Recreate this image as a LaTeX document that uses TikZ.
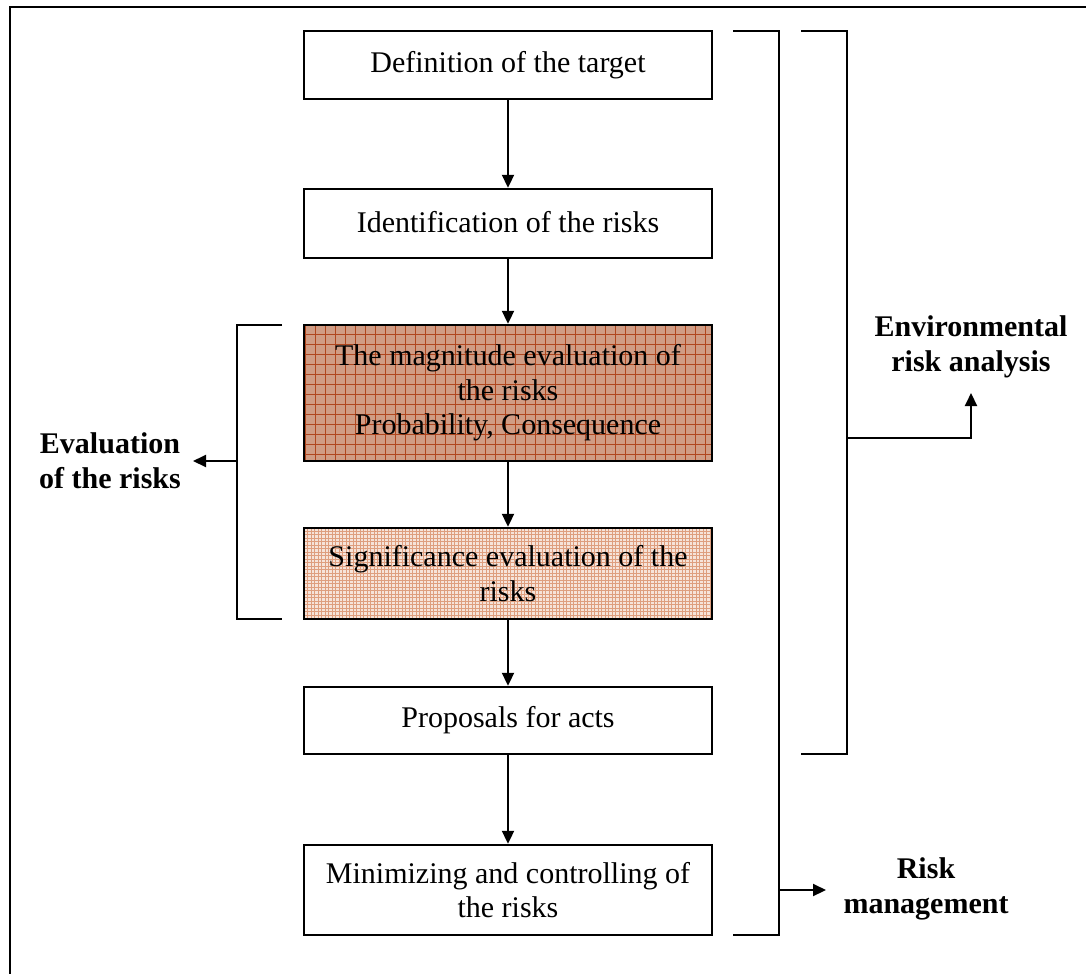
\documentclass[tikz,border=0pt]{standalone}
\usepackage{fontspec}
\setmainfont{Liberation Serif}
\usetikzlibrary{arrows.meta}

\definecolor{magbase}{HTML}{D09C84}
\definecolor{maggrid}{HTML}{B0461E}
\definecolor{sigbase}{HTML}{F6E3D9}
\definecolor{siggrid}{HTML}{DE9E7E}

\tikzset{
  stepbox/.style={draw=black, line width=2.4pt, fill=white,
    minimum width=408pt, inner sep=0pt, align=center,
    font=\fontsize{30}{34.5}\selectfont},
  magfill/.style={fill=magbase, path picture={
      \draw[maggrid, line width=1.1pt, step=10pt]
        (path picture bounding box.south west) grid (path picture bounding box.north east);}},
  sigfill/.style={fill=sigbase, path picture={
      \draw[siggrid, line width=0.7pt, step=3.5pt]
        (path picture bounding box.south west) grid (path picture bounding box.north east);}},
  flow/.style={line width=2pt, -{Triangle[width=12pt,length=13pt]}},
  bracket/.style={line width=2pt},
  label/.style={align=center, font=\fontsize{30}{35}\selectfont\bfseries},
}

\begin{document}
\begin{tikzpicture}[x=1pt, y=-1pt]
\useasboundingbox (0,0) rectangle (1086,974);

% outer frame (only the top and left edges fall inside the page)
\draw[line width=2pt] (1086,7) -- (10,7) -- (10,974);

% process steps
\node[stepbox, minimum height=68pt] (def) at (508,65) {Definition of the target};
\node[stepbox, minimum height=69pt] (ident) at (508,223.5)
  {\raisebox{4pt}{Identification of the risks}};
\node[stepbox, magfill, minimum height=136pt] (mag) at (508,393)
  {The magnitude evaluation of\\the risks\\Probability, Consequence};
\node[stepbox, sigfill, minimum height=91pt] (sig) at (508,573.5)
  {Significance evaluation of the\\risks};
\node[stepbox, minimum height=67pt] (prop) at (508,720.5) {Proposals for acts};
\node[stepbox, minimum height=90pt] (mini) at (508,890)
  {Minimizing and controlling of\\the risks};

\draw[flow] (def) -- (ident);
\draw[flow] (ident) -- (mag);
\draw[flow] (mag) -- (sig);
\draw[flow] (sig) -- (prop);
\draw[flow] (prop) -- (mini);

% labels
\node[label] (evallab) at (110,461) {Evaluation\\of the risks};
\node[label] (envlab) at (971,347) {Environmental\\risk analysis};
\node[label] (risklab) at (926,889) {Risk\\management};

% evaluation bracket
\coordinate (evalmid) at (237,461);
\coordinate (evaltip) at (193,461);
\draw[bracket] (282,325) -- (237,325) -- (237,619) -- (282,619);
\draw[flow] (evalmid) -- (evaltip);

% risk management bracket
\coordinate (riskmid) at (779,890);
\coordinate (risktip) at (826,890);
\draw[bracket] (733,31) -- (779,31) -- (779,935) -- (733,935);
\draw[flow] (riskmid) -- (risktip);

% environmental risk analysis bracket
\coordinate (envmid) at (847,438);
\coordinate (envtip) at (971,393);
\draw[bracket] (801,31) -- (847,31) -- (847,754) -- (801,754);
\draw[flow] (envmid) -| (envtip);
\end{tikzpicture}
\end{document}
